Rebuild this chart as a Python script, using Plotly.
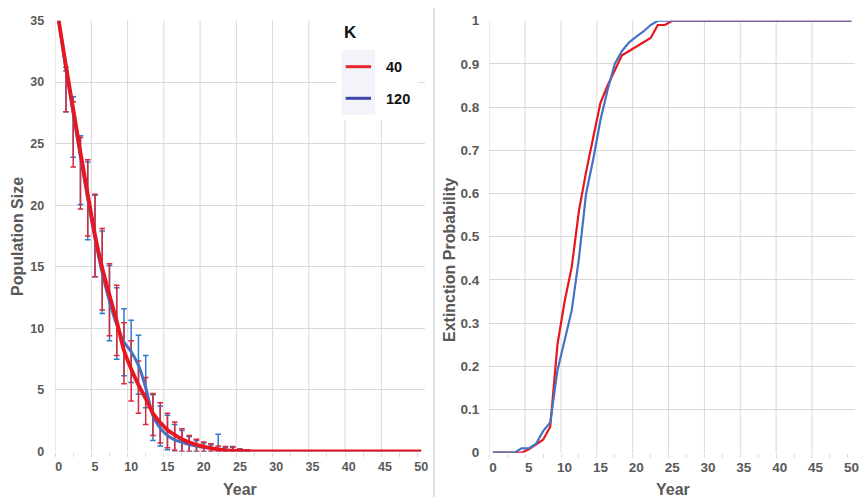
import plotly.graph_objects as go

# ---------------- data ----------------
years = list(range(0, 51))

# mean population size (smoothed line), K = 40 and K = 120
pop_k40 = [35, 31.3, 27.8, 24.3, 20.9, 17.6, 14.9, 12.7, 10.6, 8.2, 6.7, 5.4, 4.3, 3.1,
           2.35, 1.75, 1.35, 1.0, 0.75, 0.55, 0.4, 0.28, 0.18, 0.1, 0.06, 0.03, 0.01] + [0] * 24
pop_k120 = [35, 31.0, 27.4, 23.9, 20.5, 17.3, 14.5, 12.2, 10.3, 8.9, 8.1, 7.0, 5.2, 2.9,
            1.9, 1.3, 0.95, 0.75, 0.55, 0.45, 0.35, 0.28, 0.2, 0.13, 0.08, 0.05, 0.02] + [0] * 24

# error bar bounds for years 1..26
bar_years = list(range(1, 27))
k40_low = [27.6, 23.1, 19.7, 17.5, 14.2, 11.5, 9.4, 7.8, 5.5, 4.1, 3.1, 2.2, 1.3, 0.7, 0.3, 0.1,
           0, 0, 0, 0, 0, 0, 0, 0, 0, 0]
k40_high = [31.2, 28.4, 25.5, 23.7, 20.9, 18.1, 15.25, 13.5, 10.45, 9.0, 7.35, 6.0, 4.7, 3.95, 3.1,
            2.4, 1.85, 1.3, 1.0, 0.78, 0.62, 0.45, 0.4, 0.35, 0.2, 0.15]
k120_low = [27.6, 23.9, 20.05, 17.2, 14.2, 11.2, 9.0, 7.5, 6.15, 5.6, 4.65, 3.55, 0.9, 0.45, 0.15,
            0, 0, 0, 0, 0, 0, 0, 0, 0, 0, 0]
k120_high = [30.9, 28.8, 25.65, 23.5, 20.8, 17.9, 15.1, 13.3, 11.6, 10.65, 9.45, 7.8, 4.6, 3.7, 2.95,
             2.2, 1.7, 1.2, 0.9, 0.7, 0.55, 1.4, 0.35, 0.4, 0.2, 0.15]

# extinction probability
ext_k40 = [0, 0, 0, 0, 0, 0.008, 0.02, 0.03, 0.06, 0.25, 0.35, 0.43, 0.56, 0.65, 0.73, 0.81,
           0.85, 0.885, 0.92, 0.93, 0.94, 0.95, 0.96, 0.99, 0.99, 1.0] + [1.0] * 25
ext_k120 = [0, 0, 0, 0, 0.01, 0.01, 0.02, 0.05, 0.07, 0.19, 0.26, 0.33, 0.45, 0.6, 0.68, 0.77,
            0.84, 0.9, 0.93, 0.95, 0.963, 0.975, 0.99, 1.0] + [1.0] * 27

legend_title = "K"
legend_labels = ["40", "120"]

# ---------------- styling ----------------
W, H = 860, 497
RED = "#e8161e"
BLUE = "#4472c4"
RED_BAR = "#d8283a"
BLUE_BAR = "#2f7bd0"
GRID = "#d9d9d9"
TXT = "#595959"
FONT = "Liberation Sans, Arial, sans-serif"


def px(x):
    return x / W


def py(y):
    return 1 - y / H


fig = go.Figure()

# error bars (left)
for lo, hi, col in [(k120_low, k120_high, BLUE_BAR), (k40_low, k40_high, RED_BAR)]:
    center = [(a + b) / 2 for a, b in zip(lo, hi)]
    half = [(b - a) / 2 for a, b in zip(lo, hi)]
    fig.add_trace(go.Scatter(
        x=bar_years, y=center, mode="markers",
        marker=dict(size=1, color="rgba(0,0,0,0)"),
        error_y=dict(type="data", array=half, symmetric=True, color=col, thickness=1.5, width=2.8),
        xaxis="x", yaxis="y", showlegend=False, hoverinfo="skip"))

fig.add_trace(go.Scatter(x=years, y=pop_k120, mode="lines",
                         line=dict(color=BLUE, width=3, shape="spline", smoothing=0.6),
                         xaxis="x", yaxis="y", showlegend=False))
fig.add_trace(go.Scatter(x=years, y=pop_k40, mode="lines",
                         line=dict(color=RED, width=3.8, shape="spline", smoothing=0.6),
                         xaxis="x", yaxis="y", showlegend=False))

# right plot
fig.add_trace(go.Scatter(x=years, y=ext_k40, mode="lines", line=dict(color=RED, width=2.2),
                         xaxis="x2", yaxis="y2", showlegend=False))
fig.add_trace(go.Scatter(x=years, y=ext_k120, mode="lines", line=dict(color=BLUE, width=2.2),
                         xaxis="x2", yaxis="y2", showlegend=False))

tick_font_l = dict(family=FONT, size=12.5, color=TXT, weight="bold")
tick_font_r = dict(family=FONT, size=13.5, color=TXT, weight="bold")

xcommon = dict(range=[-0.5, 50.5], tickvals=list(range(0, 51, 5)), showgrid=False,
               zeroline=False, showline=False, ticks="", automargin=False,
               ticklabeloverflow="allow",
               minor=dict(tick0=-0.5, dtick=2.5, ticks="outside", ticklen=4,
                          tickcolor=GRID, showgrid=False))

fig.update_layout(
    width=W, height=H, margin=dict(l=0, r=0, t=0, b=0, autoexpand=False),
    paper_bgcolor="white", plot_bgcolor="white",
    xaxis=dict(domain=[px(55.1), px(424.8)], anchor="y", tickfont=tick_font_l,
               ticklabelstandoff=6, **xcommon),
    yaxis=dict(domain=[py(451.5), py(20.5)], anchor="x", range=[0, 35], automargin=False,
               tickvals=list(range(0, 36, 5)), showgrid=True, gridcolor=GRID, gridwidth=1,
               zeroline=False, showline=False, ticks="", tickfont=tick_font_l,
               ticklabelstandoff=10),
    xaxis2=dict(domain=[px(489.3), px(855)], anchor="y2", tickfont=tick_font_r,
                ticklabelstandoff=5, **xcommon),
    yaxis2=dict(domain=[py(452.7), py(20.7)], anchor="x2", range=[0, 1], automargin=False,
                tickvals=[i / 10 for i in range(11)],
                ticktext=["0", "0.1", "0.2", "0.3", "0.4", "0.5", "0.6", "0.7", "0.8", "0.9", "1"],
                showgrid=True, gridcolor=GRID, gridwidth=1,
                zeroline=False, showline=False, ticks="", tickfont=tick_font_r,
                ticklabelstandoff=9),
)

shapes = []
for g in [-0.5 + 5 * i for i in range(10)]:
    for xr, yr in [("x", "y domain"), ("x2", "y2 domain")]:
        shapes.append(dict(type="line", xref=xr, yref=yr, x0=g, x1=g, y0=0, y1=1,
                           line=dict(color=GRID, width=1), layer="below"))
# divider between panels
shapes.append(dict(type="line", xref="paper", yref="paper", x0=px(434), x1=px(434),
                   y0=py(8), y1=0, line=dict(color=GRID, width=1.5)))
# legend box
shapes.append(dict(type="rect", xref="paper", yref="paper", x0=px(337), x1=px(418),
                   y0=py(120), y1=py(17), fillcolor="white", line=dict(width=0), layer="above"))
shapes.append(dict(type="rect", xref="paper", yref="paper", x0=px(341.7), x1=px(375),
                   y0=py(115), y1=py(50), fillcolor="#f2f4f9", line=dict(width=0), layer="above"))
shapes.append(dict(type="line", xref="paper", yref="paper", x0=px(345.7), x1=px(371),
                   y0=py(66.7), y1=py(66.7), line=dict(color="#e8262b", width=3), layer="above"))
shapes.append(dict(type="line", xref="paper", yref="paper", x0=px(345.7), x1=px(371),
                   y0=py(98.3), y1=py(98.3), line=dict(color="#3f47a6", width=3), layer="above"))
fig.update_layout(shapes=shapes)

title_font = dict(family=FONT, size=16, color=TXT, weight="bold")
ann = [
    dict(text="Population Size", x=px(17), y=py(237), textangle=-90, font=title_font),
    dict(text="Extinction Probability", x=px(449), y=py(260), textangle=-90, font=title_font),
    dict(text="Year", x=px(240), y=py(489), font=title_font),
    dict(text="Year", x=px(673), y=py(489), font=title_font),
    dict(text=legend_title, x=px(342), y=py(33), xanchor="left",
         font=dict(family=FONT, size=17, color="#111111", weight="bold")),
    dict(text=legend_labels[0], x=px(384), y=py(67), xanchor="left",
         font=dict(family=FONT, size=14.5, color="#111111", weight="bold")),
    dict(text=legend_labels[1], x=px(384), y=py(98.5), xanchor="left",
         font=dict(family=FONT, size=14.5, color="#111111", weight="bold")),
]
for a in ann:
    a.update(xref="paper", yref="paper", showarrow=False)
    a.setdefault("xanchor", "center")
    a.setdefault("yanchor", "middle")
fig.update_layout(annotations=ann)

fig.write_html("out.html")
